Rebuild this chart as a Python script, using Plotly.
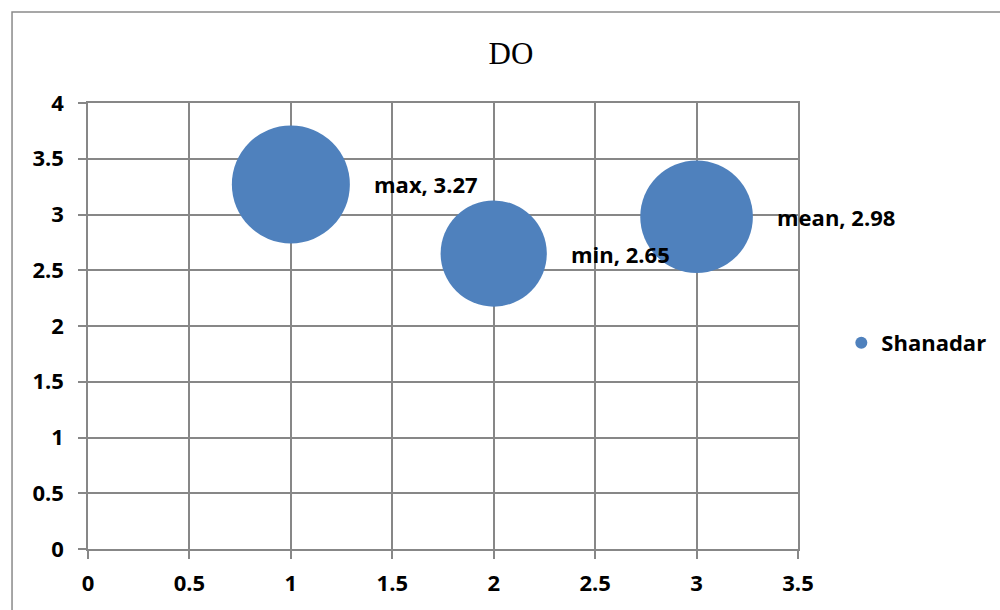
import math
import plotly.graph_objects as go

# DO readings for the Shanadar station
stat_names = ["max", "min", "mean"]
x_vals = [1, 2, 3]
do_vals = [3.27, 2.65, 2.98]
bubble_vals = [3.27, 2.65, 2.98]

x_ticks = [0, 0.5, 1, 1.5, 2, 2.5, 3, 3.5]
y_ticks = [0, 0.5, 1, 1.5, 2, 2.5, 3, 3.5, 4]

BLUE = "#4F81BD"
GRID = "#878787"
LABEL_FONT = dict(family="Open Sans", size=22, color="black", weight="bold")

max_diam = 118
sizeref = 2.0 * max(bubble_vals) / (max_diam ** 2)

fig = go.Figure()
fig.add_trace(go.Scatter(
    x=x_vals, y=do_vals, mode="markers", name="Shanadar",
    marker=dict(size=bubble_vals, sizemode="area", sizeref=sizeref,
                color=BLUE, line=dict(width=0), opacity=1),
    hoverinfo="skip",
))

# data labels to the right of each bubble
for name, xv, yv, bv in zip(stat_names, x_vals, do_vals, bubble_vals):
    radius = max_diam / 2 * math.sqrt(bv / max(bubble_vals))
    fig.add_annotation(
        x=xv, y=yv, xref="x", yref="y", text=f"{name}, {yv:.2f}",
        showarrow=False, xanchor="left", yanchor="middle",
        xshift=radius + 22, font=LABEL_FONT,
    )

axis_common = dict(
    showgrid=True, gridcolor=GRID, gridwidth=1.5,
    showline=True, linecolor=GRID, linewidth=1.5, mirror=True,
    ticks="outside", ticklen=8, tickcolor=GRID, tickwidth=1.5,
    zeroline=False, tickfont=LABEL_FONT, fixedrange=True,
)

fig.update_xaxes(range=[0, 3.5], tickvals=x_ticks,
                 ticktext=[f"{t:g}" for t in x_ticks],
                 ticklabelstandoff=6, **axis_common)
fig.update_yaxes(range=[0, 4], tickvals=y_ticks,
                 ticktext=[f"{t:g}" for t in y_ticks],
                 ticklabelstandoff=10, **axis_common)

# outer chart frame
fig.add_shape(type="rect", xref="paper", yref="paper",
              x0=-0.107, x1=2.0, y0=-1.0, y1=1.204,
              line=dict(color="#8a8a8a", width=1.5), fillcolor="rgba(0,0,0,0)",
              layer="below")

fig.update_layout(
    width=1000, height=610,
    margin=dict(l=88, r=202, t=103, b=61, autoexpand=False),
    paper_bgcolor="white", plot_bgcolor="white",
    title=dict(text="DO", x=0.511, xanchor="center", y=0.913, yanchor="middle",
               font=dict(family="Liberation Serif", size=31, color="black")),
    showlegend=True,
    legend=dict(x=1.061, xanchor="left", y=0.462, yanchor="middle",
                itemsizing="constant", font=LABEL_FONT,
                bgcolor="rgba(0,0,0,0)"),
)

fig.write_html("out.html")
